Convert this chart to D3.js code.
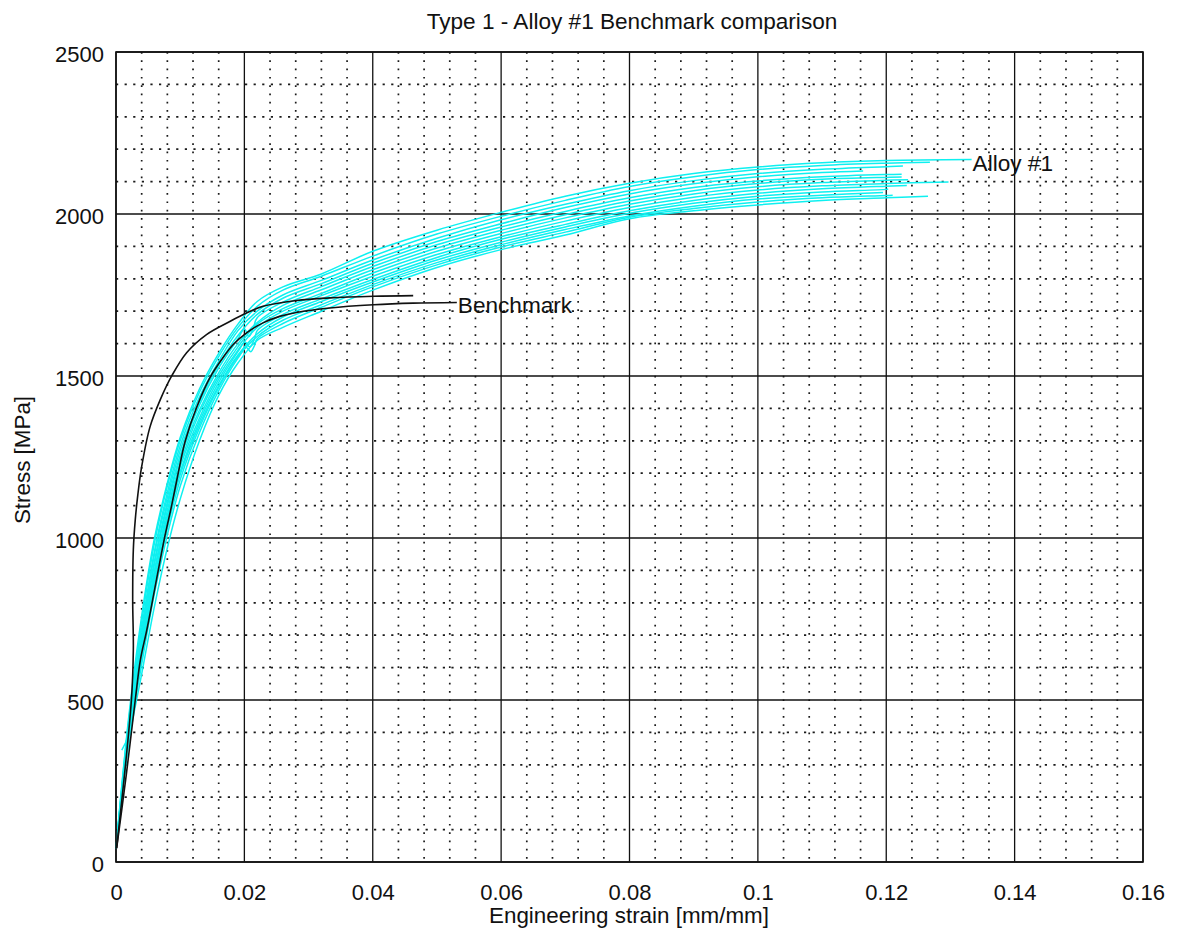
<!DOCTYPE html>
<html>
<head>
<meta charset="utf-8">
<script src="https://cdn.jsdelivr.net/npm/d3@7"></script>
<style>
  body { margin: 0; background: #fff; }
  text { font-family: "Liberation Sans", Arial, Helvetica, sans-serif; fill: #111; }
</style>
</head>
<body>
<svg id="chart" width="1178" height="933"></svg>
<script>
// Axis ticks
const strainTicks = [0, 0.02, 0.04, 0.06, 0.08, 0.1, 0.12, 0.14, 0.16];
const stressTicks = [0, 500, 1000, 1500, 2000, 2500];
const strainMinorStep = 0.004;
const stressMinorStep = 100;

// Benchmark tensile curves: [strain, stress MPa]
const benchmarkA = [
  [0.0001, 43], [0.0024, 500], [0.0027, 655], [0.0026, 809], [0.0027, 964],
  [0.0030, 1056], [0.0034, 1133], [0.0040, 1220], [0.0053, 1343], [0.0069, 1427],
  [0.0087, 1501], [0.0110, 1572], [0.0141, 1628], [0.0178, 1669], [0.0204, 1695],
  [0.0229, 1715], [0.0281, 1733], [0.0333, 1741], [0.0401, 1746], [0.0463, 1748]
];
const benchmarkB = [
  [0.0001, 43], [0.0016, 269], [0.0030, 500], [0.0038, 624], [0.0048, 716],
  [0.0063, 871], [0.0076, 1004], [0.0087, 1103], [0.0097, 1201], [0.0108, 1300],
  [0.0126, 1405], [0.0147, 1497], [0.0165, 1552], [0.0183, 1598], [0.0204, 1634],
  [0.0229, 1664], [0.0255, 1684], [0.0281, 1696], [0.0333, 1710], [0.0401, 1720],
  [0.0463, 1725], [0.0531, 1727]
];

// Alloy #1 specimens: stress sampled at a shared set of strains
const alloyStrain = [0, 0.002, 0.004, 0.006, 0.008, 0.010, 0.013, 0.016, 0.019, 0.022,
  0.026, 0.032, 0.04, 0.05, 0.06, 0.07, 0.08, 0.09, 0.10, 0.11, 0.12];
const alloyStress = [
  [40, 450, 760, 1000, 1170, 1310, 1460, 1570, 1660, 1730, 1775, 1815, 1885, 1950, 2005, 2055, 2095, 2125, 2145, 2158, 2165],
  [40, 430, 740, 985, 1160, 1300, 1450, 1560, 1650, 1715, 1765, 1808, 1870, 1938, 1993, 2042, 2085, 2115, 2137, 2150, 2157],
  [40, 440, 720, 960, 1140, 1285, 1435, 1545, 1640, 1700, 1750, 1795, 1858, 1925, 1982, 2030, 2072, 2103, 2125, 2138, 2146],
  [40, 410, 700, 950, 1125, 1270, 1420, 1535, 1625, 1690, 1740, 1785, 1848, 1915, 1970, 2020, 2062, 2093, 2115, 2128, null],
  [40, 420, 690, 930, 1110, 1255, 1410, 1525, 1615, 1680, 1728, 1776, 1838, 1905, 1960, 2008, 2050, 2082, 2102, 2115, 2122],
  [40, 400, 680, 920, 1100, 1245, 1395, 1510, 1600, 1665, 1718, 1766, 1828, 1895, 1950, 1998, 2040, 2072, 2094, 2107, 2113],
  [null, 395, 665, 900, 1085, 1230, 1385, 1500, 1590, 1660, 1708, 1755, 1818, 1885, 1940, 1988, 2030, 2062, 2084, 2097, 2104],
  [40, 400, 655, 895, 1070, 1220, 1370, 1490, 1580, 1650, 1700, 1748, 1808, 1875, 1930, 1978, 2020, 2052, 2074, 2087, 2094],
  [40, 385, 650, 880, 1060, 1205, 1360, 1480, 1575, 1640, 1690, 1738, 1798, 1866, 1922, 1968, 2010, 2042, 2064, 2078, 2086],
  [40, 390, 640, 865, 1045, 1195, 1350, 1470, 1565, 1630, 1682, 1730, 1790, 1858, 1913, 1960, 2002, 2033, 2055, 2068, 2076],
  [40, 380, 625, 850, 1030, 1180, 1340, 1465, 1560, 1622, 1672, 1720, 1782, 1850, 1905, 1952, 1994, 2024, 2046, 2058, 2064],
  [40, 375, 610, 830, 1010, 1160, 1325, 1455, 1555, 1615, 1662, 1712, 1775, 1843, 1898, 1944, 1990, 2017, 2037, 2050, 2057],
  [40, 370, 580, 790, 970, 1120, 1300, 1440, 1540, 1610, 1650, 1700, 1765, 1835, 1890, 1935, 1985, 2010, 2028, 2042, 2050]
];
// Last recorded point of each specimen (fracture), [strain, stress]
const alloyEnd = [
  [0.1333, 2168], [0.1268, 2160], [0.1226, 2148], [0.1164, 2133], [0.1224, 2123],
  [0.1224, 2114], [0.1234, 2106], [0.1297, 2099], [0.1232, 2088], [0.1203, 2077],
  [0.1195, 2066], [0.1210, 2058], [0.1265, 2055]
];
// Extra points: small load drops around yield and a late first sample, [specimen, strain, stress]
const alloyExtra = [
  [6, 0.0009, 345],
  [4, 0.0200, 1645], [4, 0.0207, 1622], [4, 0.0214, 1648],
  [8, 0.0201, 1605], [8, 0.0208, 1590], [8, 0.0216, 1615],
  [11, 0.0203, 1588], [11, 0.0210, 1575], [11, 0.0216, 1595]
];

const titleText = "Type 1 - Alloy #1 Benchmark comparison";
const xLabel = "Engineering strain [mm/mm]";
const yLabel = "Stress [MPa]";

const plot = { left: 116, right: 1143, top: 52, bottom: 862 };

const svg = d3.select("#chart");
const x = d3.scaleLinear().domain([0, 0.16]).range([plot.left, plot.right]);
const y = d3.scaleLinear().domain([0, 2500]).range([plot.bottom, plot.top]);

// Minor grid (dotted)
const xMinor = d3.range(0, 0.16 + 1e-9, strainMinorStep).filter(v => Math.abs(v / 0.02 - Math.round(v / 0.02)) > 1e-6);
const yMinor = d3.range(0, 2500 + 1e-9, stressMinorStep).filter(v => v % 500 !== 0);

const grid = svg.append("g");
grid.selectAll("line.vminor").data(xMinor).join("line")
  .attr("x1", d => x(d)).attr("x2", d => x(d))
  .attr("y1", plot.top).attr("y2", plot.bottom)
  .attr("stroke", "#1a1a1a").attr("stroke-width", 1.7)
  .attr("stroke-dasharray", "1.7,6.6");
grid.selectAll("line.hminor").data(yMinor).join("line")
  .attr("x1", plot.left).attr("x2", plot.right)
  .attr("y1", d => y(d)).attr("y2", d => y(d))
  .attr("stroke", "#1a1a1a").attr("stroke-width", 1.7)
  .attr("stroke-dasharray", "2.2,6.4");

// Major grid (solid)
grid.selectAll("line.vmajor").data(strainTicks).join("line")
  .attr("x1", d => x(d)).attr("x2", d => x(d))
  .attr("y1", plot.top).attr("y2", plot.bottom)
  .attr("stroke", "#111").attr("stroke-width", 1.3);
grid.selectAll("line.hmajor").data(stressTicks).join("line")
  .attr("x1", plot.left).attr("x2", plot.right)
  .attr("y1", d => y(d)).attr("y2", d => y(d))
  .attr("stroke", "#111").attr("stroke-width", 1.3);

const line = d3.line()
  .x(d => x(d[0])).y(d => y(d[1]))
  .curve(d3.curveCatmullRom.alpha(0.5));

// Alloy specimens
const alloyCurves = alloyStress.map((row, i) => {
  const pts = [];
  row.forEach((s, j) => { if (s !== null && alloyStrain[j] < alloyEnd[i][0]) pts.push([alloyStrain[j], s]); });
  alloyExtra.filter(e => e[0] === i).forEach(e => pts.push([e[1], e[2]]));
  pts.sort((a, b) => a[0] - b[0]);
  pts.push(alloyEnd[i]);
  return pts;
});

svg.append("g").selectAll("path").data(alloyCurves).join("path")
  .attr("d", line)
  .attr("fill", "none")
  .attr("stroke", "#0ef0f0")
  .attr("stroke-width", 1.5);

// Benchmark
svg.append("g").selectAll("path").data([benchmarkA, benchmarkB]).join("path")
  .attr("d", line)
  .attr("fill", "none")
  .attr("stroke", "#111")
  .attr("stroke-width", 1.6);

// Frame
svg.append("rect")
  .attr("x", plot.left).attr("y", plot.top)
  .attr("width", plot.right - plot.left).attr("height", plot.bottom - plot.top)
  .attr("fill", "none").attr("stroke", "#111").attr("stroke-width", 1.6);

// Tick labels
const fmt = v => String(+v.toFixed(2));
svg.append("g")
  .attr("transform", `translate(0,${plot.bottom})`)
  .call(d3.axisBottom(x).tickValues(strainTicks).tickFormat(fmt).tickSize(0).tickPadding(22))
  .call(g => g.select(".domain").remove())
  .call(g => g.selectAll("text").attr("font-size", 22).attr("font-family", null).attr("fill", "#111"));

svg.append("g")
  .attr("transform", `translate(${plot.left},0)`)
  .call(d3.axisLeft(y).tickValues(stressTicks).tickFormat(d3.format("d")).tickSize(0).tickPadding(12))
  .call(g => g.select(".domain").remove())
  .call(g => g.selectAll("text").attr("font-size", 22).attr("font-family", null).attr("fill", "#111").attr("dy", "0.45em"));

// Titles and labels
svg.append("text").attr("x", 632).attr("y", 29).attr("text-anchor", "middle")
  .attr("font-size", 22.6).text(titleText);
svg.append("text").attr("x", 629).attr("y", 923).attr("text-anchor", "middle")
  .attr("font-size", 22.4).text(xLabel);
svg.append("text").attr("transform", "translate(30,460) rotate(-90)").attr("text-anchor", "middle")
  .attr("font-size", 22.4).text(yLabel);

// Series labels at curve ends
svg.append("text").attr("x", x(benchmarkB[benchmarkB.length - 1][0]) + 1)
  .attr("y", y(benchmarkB[benchmarkB.length - 1][1]) + 10.5)
  .attr("font-size", 22.6).text("Benchmark");
svg.append("text").attr("x", x(alloyEnd[0][0]) + 1)
  .attr("y", y(alloyEnd[0][1]) + 11)
  .attr("font-size", 22.6).text("Alloy #1");
</script>
</body>
</html>
